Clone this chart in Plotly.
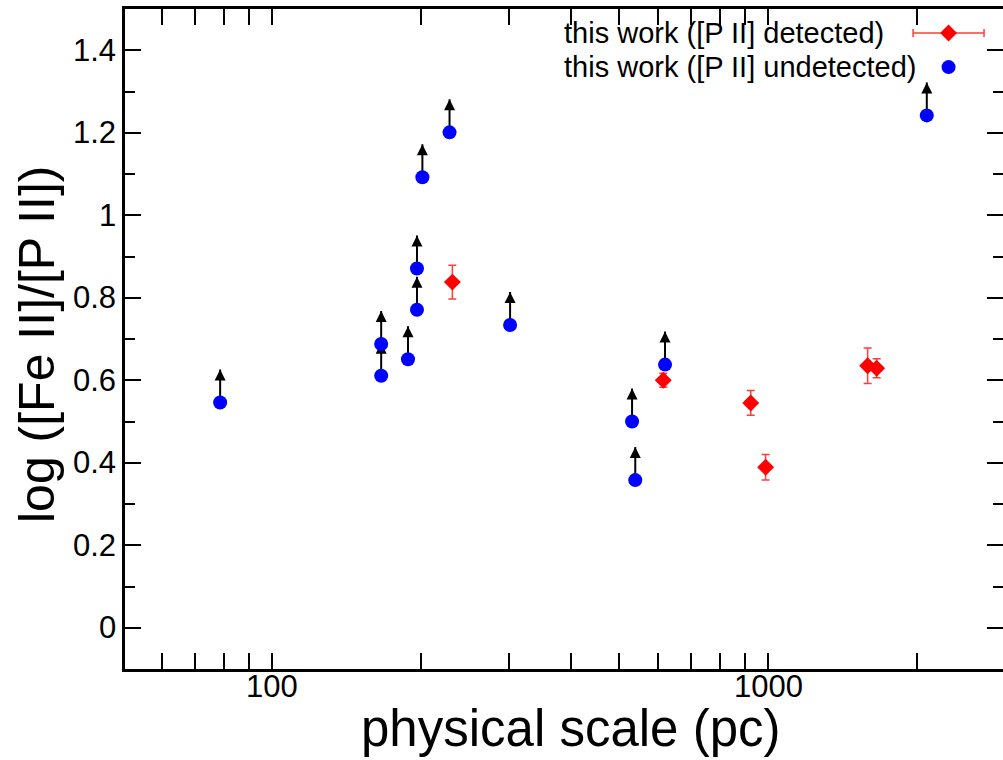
import math
import plotly.graph_objects as go

# Regions where [P II] is undetected: lower limits on log([Fe II]/[P II])
undet_scale = [78.6, 166, 166, 188, 196, 196, 201, 228, 302, 532, 540, 620, 2090]
undet_ratio = [0.546, 0.611, 0.688, 0.651, 0.771, 0.871, 1.092, 1.201, 0.734, 0.500, 0.358, 0.638, 1.242]

# Regions where [P II] is detected, with 1-sigma errors
det_scale = [231, 615, 923, 989, 1588, 1656]
det_ratio = [0.838, 0.600, 0.545, 0.389, 0.635, 0.629]
det_err = [0.041, 0.017, 0.030, 0.031, 0.043, 0.023]

# Axis ticks
x_tickvals = [100, 1000]
x_ticktext = ["100", "1000"]
x_minorvals = [50, 60, 70, 80, 90, 200, 300, 400, 500, 600, 700, 800, 900, 2000, 3000]
y_tickvals = [0, 0.2, 0.4, 0.6, 0.8, 1.0, 1.2, 1.4]
y_ticktext = ["0", "0.2", "0.4", "0.6", "0.8", "1", "1.2", "1.4"]
y_minorvals = [-0.1, 0.1, 0.3, 0.5, 0.7, 0.9, 1.1, 1.3, 1.5]

legend_labels = ["this work ([P II] detected)", "this work ([P II] undetected)"]

ARROW_LEN = 0.08  # length of lower-limit arrows, in log units
FONT = "Liberation Sans, Arial, sans-serif"
TICK_FONT = dict(family=FONT, size=31, color="black")

fig = go.Figure()

# arrow shafts for the lower limits
shaft_x, shaft_y = [], []
for xv, yv in zip(undet_scale, undet_ratio):
    shaft_x += [xv, xv, None]
    shaft_y += [yv, yv + ARROW_LEN, None]
fig.add_trace(go.Scatter(x=shaft_x, y=shaft_y, mode="lines",
                         line=dict(color="black", width=2),
                         hoverinfo="skip", showlegend=False))
# arrow heads
fig.add_trace(go.Scatter(x=undet_scale, y=[v + ARROW_LEN for v in undet_ratio],
                         mode="markers",
                         marker=dict(symbol="arrow-up", size=11, color="black",
                                     line=dict(width=0)),
                         hoverinfo="skip", showlegend=False))

# detected points with error bars
fig.add_trace(go.Scatter(x=det_scale, y=det_ratio, mode="markers",
                         marker=dict(symbol="diamond", size=13, color="#ff0000",
                                     line=dict(width=0)),
                         error_y=dict(type="data", array=det_err, visible=True,
                                      color="#ff3c3c", thickness=1.5, width=4),
                         name=legend_labels[0], showlegend=False))

# undetected points
fig.add_trace(go.Scatter(x=undet_scale, y=undet_ratio, mode="markers",
                         marker=dict(symbol="circle", size=14, color="#0000ff",
                                     line=dict(width=0)),
                         name=legend_labels[1], showlegend=False))

# legend samples on an overlay axis spanning the plotting area
fig.add_trace(go.Scatter(x=[0.938], y=[0.9636], mode="markers",
                         marker=dict(symbol="diamond", size=13, color="#ff0000",
                                     line=dict(width=0)),
                         error_x=dict(type="constant", value=0.0404, visible=True,
                                      color="#ff3c3c", thickness=1.5, width=4),
                         xaxis="x2", yaxis="y2", hoverinfo="skip", showlegend=False))
fig.add_trace(go.Scatter(x=[0.938], y=[0.912], mode="markers",
                         marker=dict(symbol="circle", size=14, color="#0000ff",
                                     line=dict(width=0)),
                         xaxis="x2", yaxis="y2", hoverinfo="skip", showlegend=False))

for label, ypos in zip(legend_labels, [0.9636, 0.912]):
    fig.add_annotation(text=label, xref="paper", yref="paper", x=0.4977, y=ypos,
                       xanchor="left", yanchor="middle", showarrow=False,
                       font=dict(family=FONT, size=29, color="black"))

# tick labels, set close to the axes
for val, txt in zip(x_tickvals, x_ticktext):
    fig.add_annotation(text=txt, xref="x", yref="paper", x=math.log10(val), y=-0.0258,
                       xanchor="center", yanchor="middle", showarrow=False,
                       borderpad=0, font=TICK_FONT)
for val, txt in zip(y_tickvals, y_ticktext):
    fig.add_annotation(text=txt, xref="paper", yref="y", x=-0.0091, y=val,
                       xanchor="right", yanchor="middle", showarrow=False,
                       borderpad=0, font=TICK_FONT)

# axis titles
fig.add_annotation(text="physical scale (pc)", xref="paper", yref="paper",
                   x=0.507, y=-0.0894, xanchor="center", yanchor="middle",
                   showarrow=False, font=dict(family=FONT, size=51, color="black"))
fig.add_annotation(text="log ([Fe II]/[P II])", xref="paper", yref="paper",
                   x=-0.1002, y=0.4924, xanchor="center", yanchor="middle",
                   textangle=-90, showarrow=False,
                   font=dict(family=FONT, size=50, color="black"))

tick_common = dict(ticks="inside", tickcolor="black", tickwidth=2, ticklen=16,
                   showgrid=False, zeroline=False, showticklabels=False)
minor_common = dict(tickmode="array", ticks="inside", ticklen=10, tickwidth=2,
                    tickcolor="black")

fig.update_layout(
    width=1003, height=760,
    margin=dict(l=125, r=0, t=9, b=91),
    paper_bgcolor="white", plot_bgcolor="white",
    font=dict(family=FONT, color="black"),
    xaxis=dict(type="log", range=[1.7036, 3.4738],
               tickmode="array", tickvals=x_tickvals,
               minor=dict(tickvals=x_minorvals, **minor_common),
               showline=True, linecolor="black", linewidth=2.5, mirror="allticks",
               **tick_common),
    yaxis=dict(range=[-0.1, 1.5],
               tickmode="array", tickvals=y_tickvals,
               minor=dict(tickvals=y_minorvals, **minor_common),
               showline=True, linecolor="black", linewidth=2.5, mirror=False,
               **tick_common),
    # right-hand ticks only (the frame's right edge lies at the page border)
    yaxis3=dict(range=[-0.1, 1.5], overlaying="y", side="right", anchor="x",
                tickmode="array", tickvals=y_tickvals,
                minor=dict(tickvals=y_minorvals, **minor_common),
                showline=False, **tick_common),
    xaxis2=dict(overlaying="x", range=[0, 1], visible=False, anchor="y2"),
    yaxis2=dict(overlaying="y", range=[0, 1], visible=False, anchor="x2"),
    showlegend=False,
)

# an empty trace keeps the right-hand tick axis drawn
fig.add_trace(go.Scatter(x=[], y=[], yaxis="y3", showlegend=False, hoverinfo="skip"))

fig.write_html("out.html")
